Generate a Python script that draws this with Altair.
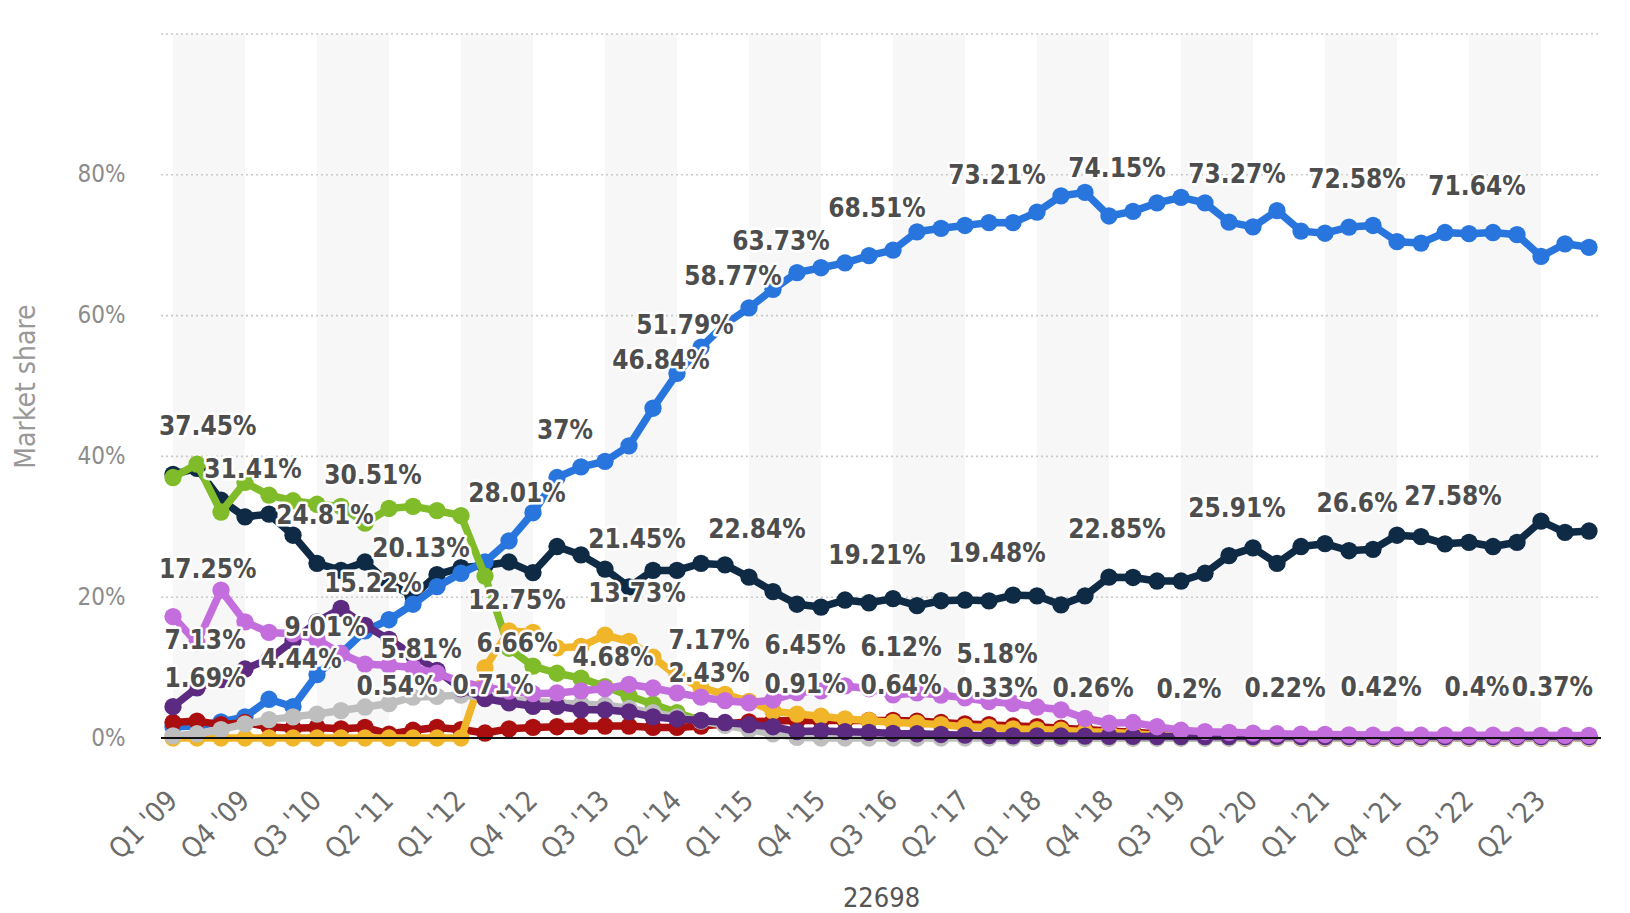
import altair as alt
import pandas as pd

# ---------------- data ----------------
quarters = [f"Q{q} '{y:02d}" for y in range(9, 24) for q in range(1, 5)]
tick_quarters = quarters[0::3]
band_starts = quarters[0::6]
band_ends = quarters[3::6]

android = [1.6, 1.69, 2.3, 3.0, 5.5, 4.44, 9.01, 12.0, 15.22, 16.8,
           19.0, 21.5, 23.4, 25.0, 28.01, 32.0, 37.0, 38.5, 39.3, 41.5,
           46.84, 51.79, 55.5, 58.77, 61.1, 63.73, 66.1, 66.8, 67.5, 68.51,
           69.3, 71.9, 72.4, 72.8, 73.21, 73.2, 74.7, 77.0, 77.5, 74.15,
           74.8, 76.0, 76.8, 76.0, 73.27, 72.6, 74.9, 72.0, 71.7, 72.58,
           72.8, 70.5, 70.3, 71.8, 71.64, 71.8, 71.5, 68.4, 70.2, 69.7]
ios = [37.45, 38.3, 33.8, 31.41, 31.8, 28.8, 24.81, 23.8, 25.0, 22.0,
       20.13, 23.2, 24.2, 24.5, 25.0, 23.5, 27.2, 26.0, 24.0, 21.45,
       23.8, 23.8, 24.8, 24.6, 22.84, 20.8, 19.0, 18.6, 19.6, 19.21,
       19.8, 18.8, 19.5, 19.6, 19.48, 20.3, 20.2, 18.9, 20.2, 22.85,
       22.8, 22.3, 22.3, 23.4, 25.91, 27.0, 24.8, 27.2, 27.6, 26.6,
       26.8, 28.8, 28.6, 27.58, 27.8, 27.2, 27.8, 30.8, 29.2, 29.4]
symbian = [37.0, 38.9, 32.1, 36.3, 34.5, 33.7, 33.2, 32.9, 30.51, 32.6,
           32.9, 32.3, 31.6, 23.0, 12.75, 10.2, 9.2, 8.5, 7.3, 6.0,
           4.8, 3.6, 2.43, 2.0, 1.5, 0.8, 0.3, 0.2, 0.2, 0.1,
           0.1, 0.1, 0.1, 0.1, 0.1, 0.1, 0, 0, 0, 0,
           0, 0, 0, 0, 0, 0, 0, 0, 0, 0,
           0, 0, 0, 0, 0, 0, 0, 0, 0, 0]
blackberry = [17.25, 13.5, 21.0, 16.5, 15.0, 14.8, 14.0, 12.0, 10.5, 10.3,
              10.0, 9.2, 8.0, 7.2, 6.66, 6.3, 6.4, 6.7, 7.0, 7.6,
              7.1, 6.4, 5.8, 5.3, 5.0, 5.4, 6.45, 6.7, 7.4, 7.0,
              6.12, 6.4, 6.1, 5.7, 5.18, 4.9, 4.4, 4.0, 2.8, 2.1,
              2.2, 1.6, 1.1, 0.9, 0.8, 0.7, 0.6, 0.55, 0.5, 0.45,
              0.42, 0.42, 0.4, 0.4, 0.4, 0.4, 0.38, 0.38, 0.37, 0.37]
unknown = [4.45, 7.13, 8.3, 9.8, 11.2, 13.8, 16.5, 18.4, 16.0, 14.0,
           11.8, 9.6, 7.0, 5.6, 5.0, 4.5, 4.5, 4.0, 4.0, 3.7,
           3.0, 2.7, 2.5, 2.2, 1.9, 1.6, 0.91, 1.0, 0.9, 0.8,
           0.64, 0.6, 0.5, 0.4, 0.33, 0.3, 0.3, 0.28, 0.26, 0.24,
           0.22, 0.21, 0.2, 0.2, 0.2, 0.21, 0.22, 0.2, 0.2, 0.2,
           0.2, 0.2, 0.2, 0.2, 0.2, 0.2, 0.2, 0.2, 0.2, 0.2]
samsung = [0.3, 0.6, 1.2, 2.0, 2.6, 3.0, 3.4, 3.9, 4.4, 4.9,
           5.81, 5.9, 6.1, 5.8, 5.5, 5.2, 5.0, 4.8, 4.68, 4.2,
           3.6, 3.0, 2.4, 1.8, 1.2, 0.6, 0.1, 0, 0, 0,
           0, 0, 0, 0, 0, 0, 0, 0, 0, 0,
           0, 0, 0, 0, 0, 0, 0, 0, 0, 0,
           0, 0, 0, 0, 0, 0, 0, 0, 0, 0]
series40 = [0, 0, 0, 0, 0, 0, 0, 0, 0, 0,
            0, 0, 0, 10.0, 15.2, 15.0, 12.8, 13.0, 14.6, 13.73,
            11.5, 8.8, 7.17, 6.2, 5.2, 3.8, 3.4, 3.1, 2.7, 2.5,
            2.2, 2.1, 1.9, 1.6, 1.5, 1.3, 1.2, 1.1, 0.9, 0.8,
            0.6, 0.4, 0.3, 0.2, 0.1, 0, 0, 0, 0, 0,
            0, 0, 0, 0, 0, 0, 0, 0, 0, 0]
windows = [2.2, 2.4, 1.9, 2.2, 1.6, 1.4, 1.5, 1.3, 1.5, 0.54,
           1.1, 1.5, 1.2, 0.71, 1.3, 1.5, 1.6, 1.7, 1.7, 1.7,
           1.5, 1.5, 1.7, 2.0, 2.3, 2.4, 2.5, 2.5, 2.5, 2.5,
           2.5, 2.4, 2.2, 2.0, 1.9, 1.7, 1.6, 1.4, 1.2, 1.0,
           0.8, 0.6, 0.4, 0.3, 0.2, 0.1, 0.1, 0, 0, 0,
           0, 0, 0, 0, 0, 0, 0, 0, 0, 0]

# drawing order: bottom -> top
series_names = ["iOS", "Android", "Symbian", "Windows", "Series 40",
                "Samsung", "Unknown", "BlackBerry"]
series_values = [ios, android, symbian, windows, series40,
                 samsung, unknown, blackberry]
series_colors = ["#0f2a44", "#2876dd", "#80bc29", "#ab0e0e", "#f1b52a",
                 "#bebebe", "#5c2a80", "#c46ede"]

# data labels that are visible in the chart
label_series = (["iOS"] * 12 + ["Symbian"] * 3 + ["Android"] * 16 +
                ["BlackBerry"] * 8 + ["Unknown"] * 7 + ["Samsung"] * 2 +
                ["Series 40"] * 2 + ["Windows"] * 2)
label_index = ([0, 3, 6, 10, 19, 24, 29, 34, 39, 44, 49, 53] +
               [8, 14, 22] +
               [1, 5, 6, 8, 14, 16, 20, 21, 23, 25, 29, 34, 39, 44, 49, 54] +
               [0, 14, 26, 30, 34, 50, 54, 59] +
               [1, 26, 30, 34, 38, 42, 46] +
               [10, 18] +
               [19, 22] +
               [9, 13])

y_ticks = [0, 20, 40, 60, 80]
grid_levels = [20, 40, 60, 80, 100]

# ---------------- build tables ----------------
W, H = 1440, 704
FONT = "DejaVu Sans Condensed, DejaVu Sans"

lookup = dict(zip(series_names, series_values))
rows = []
for name, vals in zip(series_names, series_values):
    for i, v in enumerate(vals):
        rows.append({"series": name, "q": quarters[i], "i": i, "value": v})
df = pd.DataFrame(rows)

lab_rows = []
for s, i in zip(label_series, label_index):
    v = lookup[s][i]
    pos = "left" if i == 0 else ("right" if i == len(quarters) - 1 else "center")
    lab_rows.append({"series": s, "q": quarters[i], "i": i, "value": v, "pos": pos})
lab_df = pd.DataFrame(lab_rows)

bands_df = pd.DataFrame({"qs": band_starts, "qe": band_ends})
grid_df = pd.DataFrame({"v": grid_levels})
zero_df = pd.DataFrame({"v": [0]})

xscale = alt.Scale(type="point", domain=quarters, padding=0.5)
yscale = alt.Scale(domain=[0, 100], nice=False, zero=True)

x_axis = alt.Axis(values=tick_quarters, labelAngle=-45, labelAlign="right",
                  labelBaseline="middle", labelPadding=58, ticks=False, tickSize=0,
                  domain=False, grid=False, labelOverlap=False, labelFlush=False,
                  labelFont=FONT, labelFontSize=28, labelColor="#6b6b6b",
                  title="22698", titleFont=FONT, titleFontSize=27,
                  titleFontWeight="normal", titleColor="#555555",
                  titleX=W / 2, titleY=160, titleBaseline="middle", titleAlign="center")
y_axis = alt.Axis(values=y_ticks, labelExpr="datum.value + '%'", grid=False,
                  domain=False, ticks=False, tickSize=0, labelPadding=36,
                  labelFont=FONT, labelFontSize=24, labelColor="#8c8c8c",
                  title="Market share", titleFont=FONT, titleFontSize=28,
                  titleFontWeight="normal", titleColor="#999999",
                  titleX=-135, titleY=H / 2, titleAngle=-90,
                  titleBaseline="middle", titleAlign="center")

X = alt.X("q:N", scale=xscale, axis=x_axis, sort=quarters)
Y = alt.Y("value:Q", scale=yscale, axis=y_axis)

layers = []
layers.append(
    alt.Chart(bands_df).mark_rect(color="#f7f7f8").encode(
        x=alt.X("qs:N", scale=xscale, axis=x_axis, sort=quarters),
        x2="qe", y=alt.value(0), y2=alt.value(H))
)
layers.append(
    alt.Chart(grid_df).mark_rule(color="#c9c9c9", strokeWidth=1.6, strokeDash=[2, 3]).encode(
        y=alt.Y("v:Q", scale=yscale, axis=y_axis), x=alt.value(0), x2=alt.value(W))
)
for name, color in zip(series_names, series_colors):
    base = alt.Chart(df).transform_filter(alt.datum.series == name)
    layers.append(base.mark_line(color=color, strokeWidth=7.5, strokeJoin="round",
                                 strokeCap="round").encode(x=X, y=Y, order="i:Q"))
    layers.append(base.mark_circle(color=color, size=300, opacity=1).encode(x=X, y=Y))

layers.append(
    alt.Chart(zero_df).mark_rule(color="#111111", strokeWidth=2).encode(
        y=alt.Y("v:Q", scale=yscale, axis=y_axis), x=alt.value(0), x2=alt.value(W))
)

text_common = dict(font=FONT, fontSize=26, fontWeight="bold", baseline="alphabetic", dy=-39)
lab_base = alt.Chart(lab_df).transform_calculate(text="datum.value + '%'")
placements = [
    ("center", dict(align="center", dx=8), lambda: X),
    ("left", dict(align="left"), lambda: alt.value(-2)),
    ("right", dict(align="right"), lambda: alt.value(W - 8)),
]
for halo in (True, False):
    for pos, kw, xenc in placements:
        style = dict(text_common, **kw)
        if halo:
            style.update(stroke="white", strokeWidth=5, strokeJoin="round", fill="white")
        else:
            style.update(fill="#4d4d4d")
        layers.append(
            lab_base.transform_filter(alt.datum.pos == pos).mark_text(**style).encode(
                x=xenc(), y=Y, text="text:N")
        )

chart = alt.layer(*layers).properties(
    width=W, height=H,
    autosize=alt.AutoSizeParams(type="none"),
    padding={"left": 153, "top": 26, "right": 20, "bottom": 177},
    background="white",
).configure_view(stroke=None)

chart.save("out.html", embed_options={"renderer": "svg", "actions": False})
